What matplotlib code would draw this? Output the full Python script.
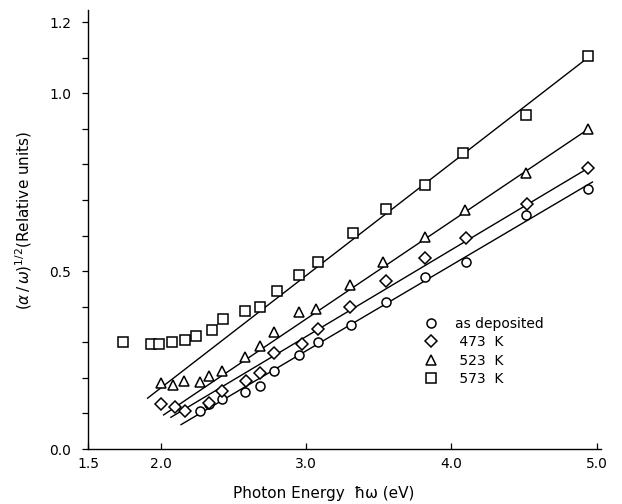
import numpy as np
import matplotlib
matplotlib.use("Agg")
import matplotlib.pyplot as plt
from matplotlib.ticker import FixedLocator

plt.rcParams['font.family'] = ['DejaVu Sans']

# ---- data ----
sq_x = [1.74, 1.93, 1.99, 2.08, 2.17, 2.24, 2.35, 2.43, 2.58, 2.68, 2.80, 2.95, 3.08,
        3.32, 3.55, 3.82, 4.08, 4.51, 4.94]
sq_y = [0.300, 0.295, 0.295, 0.300, 0.307, 0.317, 0.336, 0.367, 0.388, 0.400, 0.443,
        0.488, 0.526, 0.608, 0.674, 0.743, 0.831, 0.940, 1.104]

tri_x = [2.00, 2.085, 2.16, 2.27, 2.33, 2.42, 2.58, 2.68, 2.78, 2.95, 3.07, 3.30,
         3.53, 3.82, 4.09, 4.51, 4.94]
tri_y = [0.185, 0.179, 0.191, 0.188, 0.205, 0.220, 0.260, 0.291, 0.328, 0.385, 0.394,
         0.462, 0.526, 0.597, 0.671, 0.776, 0.900]

dia_x = [2.00, 2.10, 2.17, 2.33, 2.42, 2.59, 2.68, 2.78, 2.97, 3.08, 3.30, 3.55,
         3.82, 4.10, 4.52, 4.94]
dia_y = [0.126, 0.117, 0.107, 0.129, 0.164, 0.191, 0.214, 0.269, 0.295, 0.337, 0.399,
         0.473, 0.537, 0.593, 0.690, 0.790]

circ_x = [2.27, 2.33, 2.42, 2.58, 2.68, 2.78, 2.95, 3.08, 3.31, 3.55, 3.82, 4.10,
          4.51, 4.94]
circ_y = [0.106, 0.126, 0.141, 0.160, 0.177, 0.220, 0.264, 0.300, 0.350, 0.414, 0.483,
          0.526, 0.657, 0.730]

series_labels = ["as deposited", " 473  K", " 523  K", " 573  K"]

# straight-line fits: v = slope * (E - E0), drawn from fit_start to fit_end
fit_slope = [0.241, 0.244, 0.275, 0.316]
fit_E0 = [1.855, 1.704, 1.671, 1.457]
fit_start = [2.14, 2.07, 2.02, 1.91]
fit_end = [4.97, 4.95, 4.95, 4.95]

x_ticks = [1.5, 2.0, 3.0, 4.0, 5.0]
x_ticklabels = ["1.5", "2.0", "3.0", "4.0", "5.0"]
y_major = [0.0, 0.5, 1.0, 1.2]
y_ticklabels = ["0.0", "0.5", "1.0", "1.2"]
y_minor = [0.1, 0.2, 0.3, 0.4, 0.6, 0.7, 0.8, 0.9, 1.1]

# ---- figure ----
fig = plt.figure(figsize=(6.22, 5.04), dpi=100)
ax = fig.add_axes([0.1415, 0.109, 0.825, 0.871])

xs = [circ_x, dia_x, tri_x, sq_x]
ys = [circ_y, dia_y, tri_y, sq_y]
markers = ["o", "D", "^", "s"]
msizes = [6.5, 6.0, 7.0, 6.8]

for x, y, m, ms, lab in zip(xs, ys, markers, msizes, series_labels):
    ax.plot(x, y, linestyle="none", marker=m, markersize=ms, markerfacecolor="white",
            markeredgecolor="black", markeredgewidth=1.1, label=lab, zorder=3)

for s, e0, a, b in zip(fit_slope, fit_E0, fit_start, fit_end):
    ex = np.array([a, b])
    ax.plot(ex, s * (ex - e0), color="black", linewidth=1.0, zorder=2)

ax.set_xlim(1.5, 5.03)
ax.set_ylim(0.0, 1.234)

ax.spines['top'].set_visible(False)
ax.spines['right'].set_visible(False)
for sp in ['left', 'bottom']:
    ax.spines[sp].set_linewidth(1.0)

ax.set_xticks(x_ticks)
ax.set_xticklabels(x_ticklabels)
ax.yaxis.set_major_locator(FixedLocator(y_major))
ax.set_yticklabels(y_ticklabels)
ax.yaxis.set_minor_locator(FixedLocator(y_minor))

ax.tick_params(axis='x', direction='in', length=4, width=0.9, labelsize=10, pad=6)
ax.tick_params(axis='y', which='both', direction='out', length=4, width=0.9,
               labelsize=10, pad=8)

ax.set_xlabel("Photon Energy  \u0127\u03c9 (eV)", fontsize=11, labelpad=14)
ax.xaxis.set_label_coords(0.46, -0.085)
ax.set_ylabel(r"$(\alpha\,/\,\omega)^{1/2}$(Relative units)", fontsize=11)
ax.yaxis.set_label_coords(-0.105, 0.52)

leg = ax.legend(loc="upper left", bbox_to_anchor=(0.645, 0.3145), frameon=False,
                fontsize=10, handlelength=1.0, handletextpad=1.2, labelspacing=0.33,
                borderaxespad=0)

fig.savefig("out.png", dpi=100)
